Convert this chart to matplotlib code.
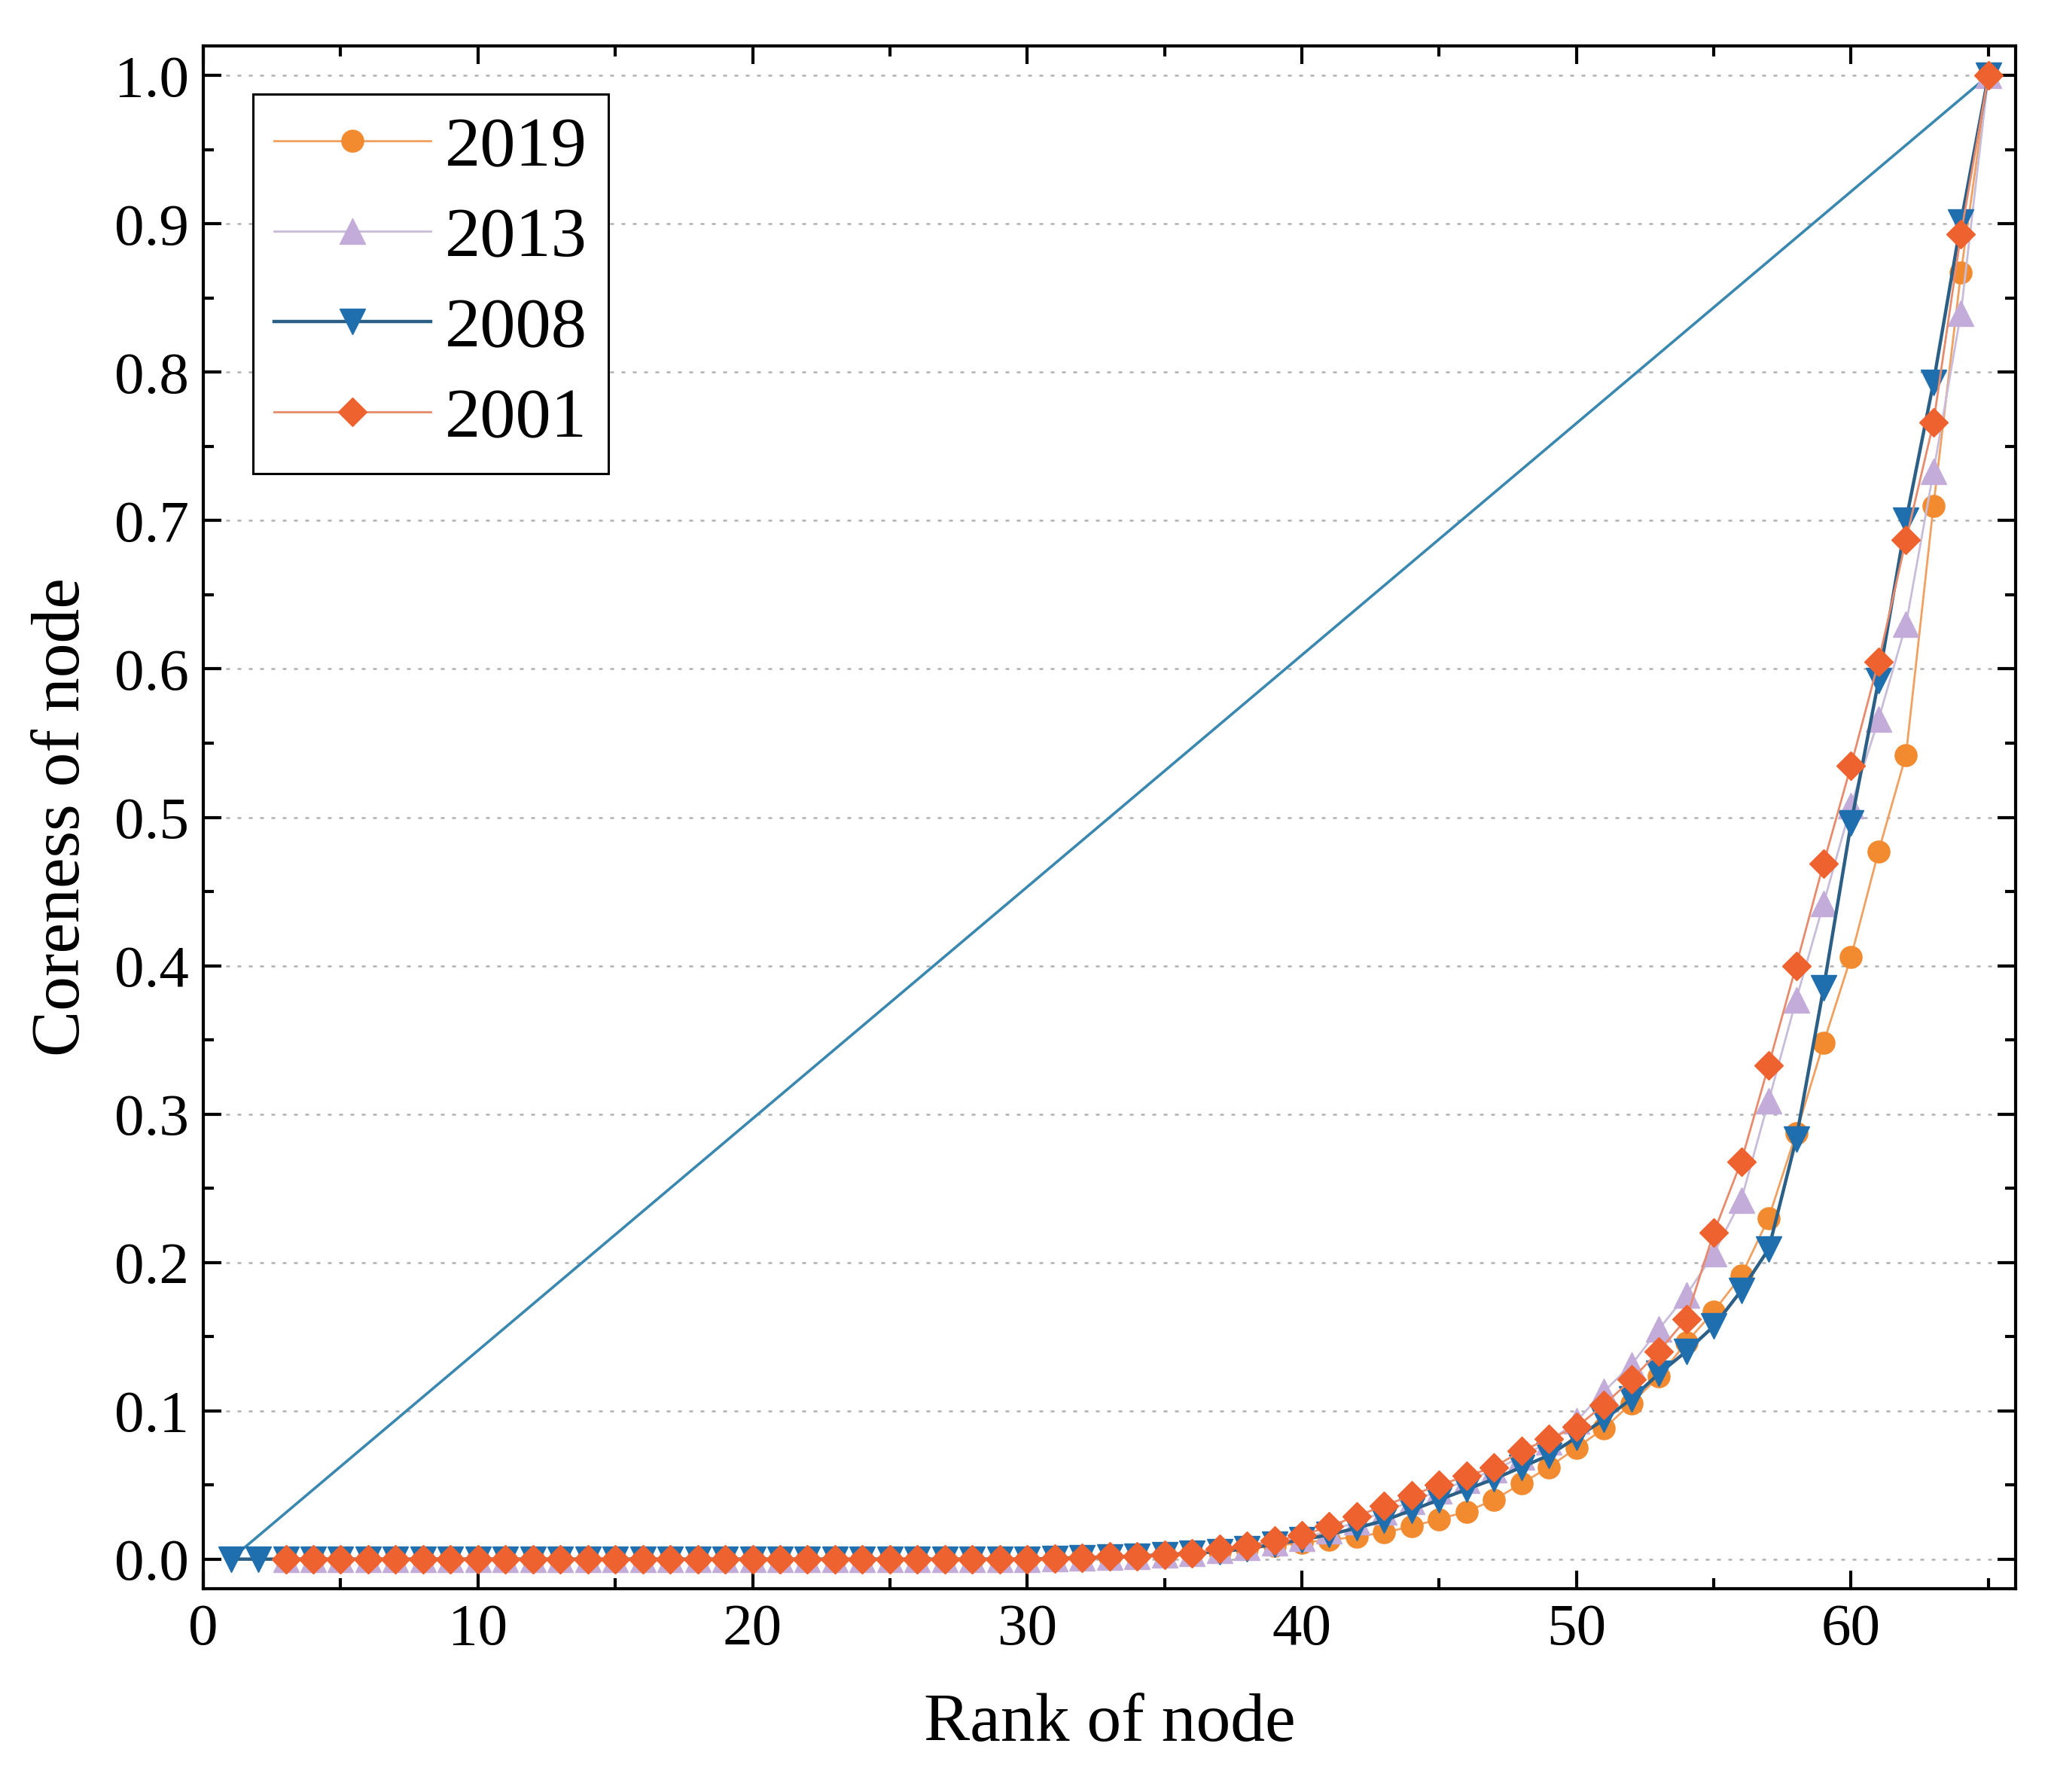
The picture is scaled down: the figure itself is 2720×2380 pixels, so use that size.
import numpy as np
import matplotlib
matplotlib.use('Agg')
import matplotlib.pyplot as plt
from matplotlib.ticker import MultipleLocator

plt.rcParams['font.family'] = ['Liberation Serif', 'DejaVu Serif']

# ranks: 2008 starts at node 1, the other years at node 3
rank_2008 = np.arange(1, 66)
rank_other = np.arange(3, 66)

c_2019 = [0]*28 + [0.0005, 0.001, 0.0015, 0.002, 0.003, 0.004, 0.005, 0.007, 0.009, 0.011,
                   0.013, 0.015, 0.018, 0.022, 0.027, 0.032, 0.040, 0.051, 0.062, 0.075,
                   0.088, 0.105, 0.123, 0.146, 0.167, 0.191, 0.230, 0.287, 0.348, 0.406,
                   0.477, 0.542, 0.710, 0.867, 1.0]
c_2013 = [0]*28 + [0.0005, 0.001, 0.0015, 0.002, 0.003, 0.004, 0.006, 0.008, 0.011, 0.014,
                   0.019, 0.025, 0.032, 0.039, 0.046, 0.053, 0.060, 0.069, 0.079, 0.093,
                   0.113, 0.131, 0.155, 0.178, 0.206, 0.242, 0.309, 0.377, 0.442, 0.508,
                   0.566, 0.630, 0.733, 0.840, 1.0]
c_2008 = [0]*30 + [0.0005, 0.001, 0.0015, 0.002, 0.003, 0.004, 0.005, 0.007, 0.010, 0.013,
                   0.0165, 0.021, 0.026, 0.033, 0.040, 0.047, 0.054, 0.062, 0.070, 0.082,
                   0.094, 0.108, 0.125, 0.140, 0.157, 0.181, 0.209, 0.283, 0.385, 0.496,
                   0.592, 0.700, 0.793, 0.901, 1.0]
c_2001 = [0]*28 + [0.0005, 0.001, 0.0017, 0.002, 0.003, 0.004, 0.0069, 0.009, 0.0125, 0.016,
                   0.022, 0.029, 0.036, 0.043, 0.050, 0.056, 0.062, 0.073, 0.081, 0.089,
                   0.104, 0.121, 0.140, 0.162, 0.220, 0.268, 0.333, 0.400, 0.469, 0.535,
                   0.605, 0.687, 0.766, 0.893, 1.0]

# equality reference line
diag_x = [1, 65]
diag_y = [0, 1]

fig = plt.figure(figsize=(27.2, 23.8), dpi=100)
ax = fig.add_axes([0.0993, 0.1134, 0.885, 0.861])

ax.plot(diag_x, diag_y, color='#3a88b0', lw=2.6, zorder=2)

ax.plot(rank_other, c_2019, color='#f0a060', lw=2.0, marker='o', ms=21,
        mfc='#f28a30', mec='#f28a30', label='2019', zorder=3)
ax.plot(rank_other, c_2013, color='#c8bcd8', lw=2.0, marker='^', ms=24,
        mfc='#c3acd9', mec='#c3acd9', label='2013', zorder=4)
ax.plot(rank_2008, c_2008, color='#2c5f86', lw=3.2, marker='v', ms=24,
        mfc='#1f6fae', mec='#1f6fae', label='2008', zorder=5)
ax.plot(rank_other, c_2001, color='#e88a6c', lw=2.0, marker='D', ms=19,
        mfc='#ee6230', mec='#ee6230', label='2001', zorder=6)

ax.set_xlim(0, 66)
ax.set_ylim(-0.02, 1.02)
ax.xaxis.set_major_locator(MultipleLocator(10))
ax.xaxis.set_minor_locator(MultipleLocator(5))
ax.yaxis.set_major_locator(MultipleLocator(0.1))
ax.yaxis.set_minor_locator(MultipleLocator(0.05))
ax.yaxis.set_major_formatter(plt.FormatStrFormatter('%.1f'))

ax.tick_params(which='both', direction='in', top=True, right=True, width=3)
ax.tick_params(which='major', length=17, labelsize=57, pad=14)
ax.tick_params(which='minor', length=10)
for s in ax.spines.values():
    s.set_linewidth(3)

ax.grid(axis='y', which='major', color='#b0b0b0', lw=1.8, ls=(0, (2, 4)))
ax.set_axisbelow(True)

ax.set_xlabel('Rank of node', fontsize=66, labelpad=34)
ax.set_ylabel('Coreness of node', fontsize=66, labelpad=20)

leg = ax.legend(loc='upper left', bbox_to_anchor=(0.0274, 0.9685), borderaxespad=0,
                fontsize=68, handlelength=2.2, labelspacing=0.36, handletextpad=0.2,
                borderpad=0.3, fancybox=False, framealpha=1, edgecolor='black')
leg.get_frame().set_linewidth(2.2)

fig.savefig('out.png', dpi=100, facecolor='white')
